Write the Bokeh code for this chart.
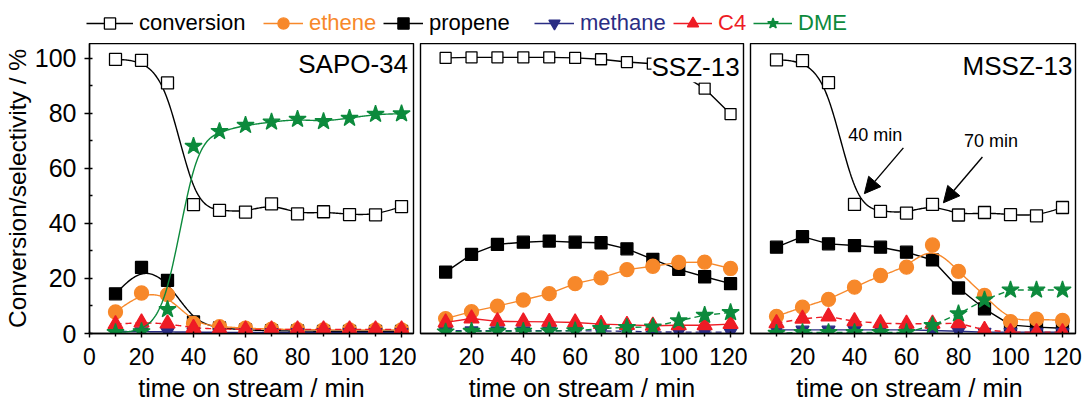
import numpy as np
from bokeh.plotting import figure
from bokeh.layouts import column, row
from bokeh.models import (FixedTicker, Legend, LegendItem, Label, Arrow,
                          NormalHead, Range1d)
from bokeh.embed import file_html
from bokeh.resources import INLINE

# ---------------- data ----------------
time_min = [10, 20, 30, 40, 50, 60, 70, 80, 90, 100, 110, 120]

conv_sapo = [99.5, 99.2, 91.0, 46.8, 44.7, 44.1, 47.1, 43.4, 44.2, 43.2, 43.1, 46.1]
ethene_sapo = [7.8, 14.7, 14.1, 3.7, 2.5, 1.9, 1.6, 1.4, 1.3, 1.3, 1.3, 1.3]
propene_sapo = [14.4, 24.0, 19.3, 4.2, 2.0, 1.3, 1.0, 0.9, 0.8, 0.8, 0.8, 0.8]
methane_sapo = [0.7, 0.7, 0.6, 0.5, 0.4, 0.4, 0.4, 0.4, 0.4, 0.4, 0.4, 0.4]
c4_sapo = [3.4, 4.0, 3.6, 2.0, 1.6, 1.5, 1.5, 1.5, 1.5, 1.5, 1.5, 1.5]
dme_sapo = [0.4, 0.7, 8.7, 68.0, 73.4, 75.6, 76.8, 77.8, 77.0, 78.2, 79.6, 79.8]

conv_ssz = [99.6, 99.8, 99.8, 99.8, 99.8, 99.6, 99.1, 98.1, 97.5, 94.3, 88.5, 79.3]
ethene_ssz = [5.4, 7.9, 9.9, 12.1, 14.4, 18.0, 20.1, 23.1, 24.3, 25.7, 25.8, 23.5]
propene_ssz = [22.2, 28.6, 32.2, 33.0, 33.4, 33.0, 32.8, 30.6, 26.8, 23.2, 20.5, 18.0]
methane_ssz = [1.0, 1.0, 1.0, 1.0, 1.0, 1.0, 0.9, 0.8, 0.6, 0.5, 0.5, 0.5]
c4_ssz = [4.0, 5.4, 4.4, 4.3, 4.2, 4.0, 3.4, 3.1, 2.8, 3.0, 3.0, 3.4]
dme_ssz = [0.6, 0.8, 0.8, 0.8, 0.9, 1.0, 1.8, 2.2, 2.4, 4.6, 6.6, 7.6]

conv_mssz = [98.6, 98.3, 90.4, 46.5, 44.0, 43.4, 46.5, 42.7, 43.6, 42.8, 42.4, 45.4]
ethene_mssz = [6.2, 9.5, 12.3, 16.7, 20.9, 23.9, 31.9, 22.4, 13.7, 4.3, 5.2, 4.7]
propene_mssz = [31.1, 34.9, 32.3, 31.7, 31.1, 29.3, 26.5, 16.4, 8.9, 3.1, 2.3, 1.9]
methane_mssz = [1.3, 1.3, 1.3, 1.3, 1.3, 1.3, 1.1, 0.8, 0.5, 0.5, 0.5, 0.5]
c4_mssz = [3.7, 5.3, 6.1, 4.4, 3.7, 3.5, 3.5, 3.7, 1.3, 0.5, 0.5, 0.5]
dme_mssz = [0.1, 0.4, 0.4, 0.4, 0.4, 0.4, 2.9, 7.1, 12.1, 15.7, 15.7, 15.7]

series_names = ["conversion", "ethene", "propene", "methane", "C4", "DME"]
panel_names = ["SAPO-34", "SSZ-13", "MSSZ-13"]
x_ticks_first = [0, 20, 40, 60, 80, 100, 120]
x_ticks_other = [20, 40, 60, 80, 100, 120]
x_minor = [10, 30, 50, 70, 90, 110]
y_ticks = [0, 20, 40, 60, 80, 100]
y_minor = [10, 30, 50, 70, 90]

# ---------------- styles ----------------
FONT = "Liberation Sans"
ORANGE = "#F7882A"
NAVY = "#2A2D84"
RED = "#EE1C25"
GREEN = "#0C8A3C"
LW = 1.4

STYLE = {
    "conversion": dict(color="black", marker="square", size=12, fill="white"),
    "ethene": dict(color=ORANGE, marker="circle", size=14, fill=ORANGE),
    "propene": dict(color="black", marker="square", size=12, fill="black"),
    "methane": dict(color=NAVY, marker="inverted_triangle", size=13, fill=NAVY),
    "C4": dict(color=RED, marker="triangle", size=15, fill=RED),
    "DME": dict(color=GREEN, marker="star", size=18, fill=GREEN),
}


def bspline(xs, ys, n=24):
    """Smooth (uniform cubic B-spline) rendering path for the data points."""
    P = np.column_stack([np.asarray(xs, float), np.asarray(ys, float)])
    Q = np.vstack([P[0], P[0], P, P[-1], P[-1]])
    t = np.linspace(0, 1, n, endpoint=False)[:, None]
    b0 = (1 - t) ** 3 / 6
    b1 = (3 * t ** 3 - 6 * t ** 2 + 4) / 6
    b2 = (-3 * t ** 3 + 3 * t ** 2 + 3 * t + 1) / 6
    b3 = t ** 3 / 6
    segs = []
    for i in range(len(Q) - 3):
        segs.append(b0 * Q[i] + b1 * Q[i + 1] + b2 * Q[i + 2] + b3 * Q[i + 3])
    segs.append(P[-1][None, :])
    C = np.vstack(segs)
    return C[:, 0], C[:, 1]


def style_axis(ax, tick_font, label_font):
    ax.axis_line_width = LW
    ax.major_tick_line_width = LW
    ax.minor_tick_line_width = LW
    ax.major_label_text_font = FONT
    ax.major_label_text_font_size = tick_font
    ax.major_label_text_color = "black"
    ax.axis_label_text_font = FONT
    ax.axis_label_text_font_size = label_font
    ax.axis_label_text_font_style = "normal"
    ax.axis_label_text_color = "black"


def make_panel(width, height, x_range, y_range, mb_left, mb_right, mb_bottom,
               show_y, xticks, xlabel, data, smooth, dashes, title,
               title_xy, title_bg):
    p = figure(width=width, height=height, x_range=Range1d(*x_range),
               y_range=Range1d(*y_range), output_backend="svg",
               toolbar_location=None,
               y_axis_location="left" if show_y else None,
               min_border_left=mb_left, min_border_right=mb_right,
               min_border_top=0, min_border_bottom=mb_bottom)
    p.grid.visible = False
    p.outline_line_color = "black"
    p.outline_line_width = LW
    p.background_fill_color = "white"
    p.border_fill_color = "white"

    xa = p.xaxis[0]
    xa.ticker = FixedTicker(ticks=xticks, minor_ticks=x_minor)
    xa.axis_label = xlabel
    xa.major_tick_out = 4
    xa.major_tick_in = 2
    xa.minor_tick_out = 3
    xa.minor_tick_in = 0
    xa.major_label_standoff = 10
    xa.axis_label_standoff = 6
    style_axis(xa, "23px", "25px")
    if show_y:
        ya = p.yaxis[0]
        ya.ticker = FixedTicker(ticks=y_ticks, minor_ticks=y_minor)
        ya.axis_label = "Conversion/selectivity / %"
        ya.major_tick_out = 5
        ya.major_tick_in = 3
        ya.minor_tick_out = 0
        ya.minor_tick_in = 3
        ya.major_label_standoff = 8
        ya.axis_label_standoff = 1
        style_axis(ya, "25px", "24.5px")

    order = ["conversion", "propene", "ethene", "methane", "C4", "DME"]
    for name in order:
        ys = data[name]
        st = STYLE[name]
        size = st["size"]
        if title == "SSZ-13" and name == "conversion":
            size = 11
        if smooth[name]:
            lx, ly = bspline(time_min, ys)
        else:
            lx, ly = time_min, ys
        p.line(lx, ly, line_color=st["color"], line_width=LW,
               line_dash=dashes[name])
        p.scatter(time_min, ys, marker=st["marker"], size=size,
                  fill_color=st["fill"], line_color=st["color"], line_width=1.3)

    lab = Label(x=title_xy[0], y=title_xy[1], text=title, text_align="right",
                text_baseline="middle", text_font=FONT, text_font_size="26px",
                text_color="black")
    if title_bg:
        lab.background_fill_color = "white"
    p.add_layout(lab)
    return p


p1 = make_panel(
    416, 361, (0, 124.6), (0, 105.3), 86, 3, 67, True, x_ticks_first,
    "time on stream / min",
    {"conversion": conv_sapo, "ethene": ethene_sapo, "propene": propene_sapo,
     "methane": methane_sapo, "C4": c4_sapo, "DME": dme_sapo},
    {"conversion": True, "ethene": True, "propene": True, "methane": True,
     "C4": True, "DME": True},
    {"conversion": "solid", "ethene": "solid", "propene": "solid",
     "methane": "solid", "C4": "6 4", "DME": "solid"},
    "SAPO-34", (122.5, 98.0), False)

p2 = make_panel(
    331, 361, (0.3, 125.0), (0, 104.8), 4, 4, 70, False, x_ticks_other,
    "time on stream / min",
    {"conversion": conv_ssz, "ethene": ethene_ssz, "propene": propene_ssz,
     "methane": methane_ssz, "C4": c4_ssz, "DME": dme_ssz},
    {k: False for k in series_names},
    {"conversion": "solid", "ethene": "solid", "propene": "solid",
     "methane": "6 4", "C4": "solid", "DME": "6 4"},
    "SSZ-13", (123.5, 96.2), True)

p3 = make_panel(
    336, 361, (0.0, 125.0), (0, 104.5), 3, 8, 71, False, x_ticks_other,
    "time on stream  / min",
    {"conversion": conv_mssz, "ethene": ethene_mssz, "propene": propene_mssz,
     "methane": methane_mssz, "C4": c4_mssz, "DME": dme_mssz},
    {"conversion": True, "ethene": True, "propene": False, "methane": False,
     "C4": False, "DME": False},
    {"conversion": "solid", "ethene": "solid", "propene": "solid",
     "methane": "solid", "C4": "6 4", "DME": "6 4"},
    "MSSZ-13", (123.8, 96.4), False)

# arrows marking 40 min and 70 min on MSSZ-13 conversion
i40 = time_min.index(40)
i70 = time_min.index(70)
for idx, txt, dx_text, dy_text, dx_end, dy_end in [
        (i40, "40 min", 8.0, 25.0, 3.8, 3.9),
        (i70, "70 min", 22.5, 23.0, 4.2, 0.6)]:
    tx = time_min[idx] + dx_text
    ty = conv_mssz[idx] + dy_text
    ex = time_min[idx] + dx_end
    ey = conv_mssz[idx] + dy_end
    sx = ex + 15.0
    sy = ey + 16.5
    p3.add_layout(Arrow(end=NormalHead(size=16, fill_color="black",
                                       line_color="black"),
                        x_start=sx, y_start=sy, x_end=ex, y_end=ey,
                        line_width=LW, line_color="black"))
    p3.add_layout(Label(x=tx, y=ty, text=txt, text_align="center",
                        text_baseline="middle", text_font=FONT,
                        text_font_size="18px", text_color="black"))

# ---------------- header legend ----------------
header = figure(width=1083, height=43, x_range=Range1d(0, 1),
                y_range=Range1d(0, 1), output_backend="svg",
                toolbar_location=None, x_axis_location=None,
                y_axis_location=None, min_border=0)
header.grid.visible = False
header.outline_line_color = None
header.border_fill_color = "white"

legend_pos = {"conversion": (86, 47), "ethene": (263, 40), "propene": (383, 40),
              "methane": (534, 40), "C4": (673, 39), "DME": (753, 39)}
legend_text_color = {"conversion": "black", "ethene": ORANGE, "propene": "black",
                     "methane": NAVY, "C4": RED, "DME": GREEN}
for name in series_names:
    st = STYLE[name]
    rl = header.line(x=[-5, -4], y=[-5, -4], line_color=st["color"],
                     line_width=LW)
    rs = header.scatter(x=[-5], y=[-5], marker=st["marker"], size=st["size"],
                        fill_color=st["fill"], line_color=st["color"],
                        line_width=1.3)
    x0, gw = legend_pos[name]
    lg = Legend(items=[LegendItem(label=name, renderers=[rl, rs])],
                location=(x0, 6), orientation="horizontal", glyph_width=gw,
                glyph_height=28, label_standoff=6, padding=0, margin=0,
                border_line_color=None, background_fill_alpha=0,
                label_text_font=FONT, label_text_font_size="22px",
                label_text_color=legend_text_color[name])
    header.add_layout(lg)

layout = column(header, row(p1, p2, p3, spacing=0), spacing=0)
open("out.html", "w").write(file_html(layout, INLINE))
